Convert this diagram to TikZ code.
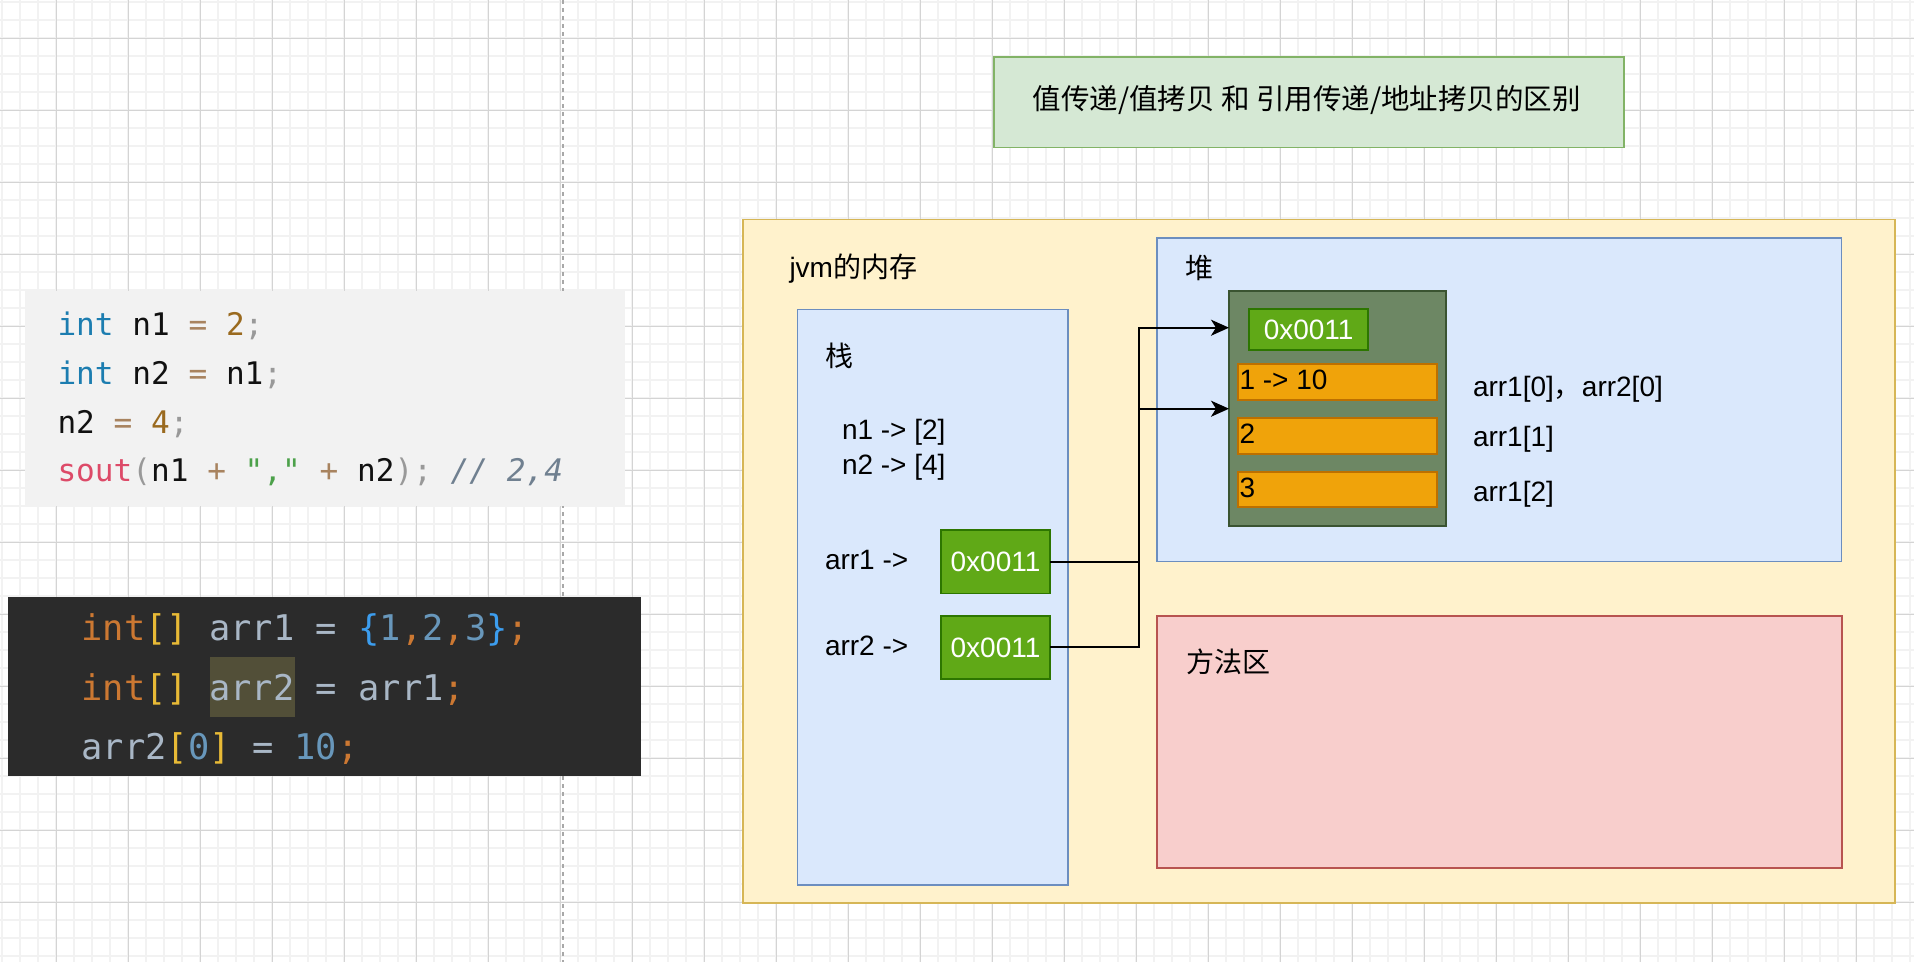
\documentclass[tikz,border=0pt]{standalone}
\usepackage{fontspec}
\setmainfont{Liberation Sans}
\newfontfamily\cjk{Noto Sans CJK SC}
\newfontfamily\codefont{DejaVu Sans Mono}
\usetikzlibrary{arrows.meta}
\definecolor{ylfill}{HTML}{FFF2CC}\definecolor{yldraw}{HTML}{D6B656}
\definecolor{blfill}{HTML}{DAE8FC}\definecolor{bldraw}{HTML}{6C8EBF}
\definecolor{rdfill}{HTML}{F8CECC}\definecolor{rddraw}{HTML}{B85450}
\definecolor{gnfill}{HTML}{D5E8D4}\definecolor{gndraw}{HTML}{82B366}
\definecolor{dgfill}{HTML}{6D8764}\definecolor{dgdraw}{HTML}{3A5431}
\definecolor{lgfill}{HTML}{60A917}\definecolor{lgdraw}{HTML}{2D7600}
\definecolor{orfill}{HTML}{F0A30A}\definecolor{ordraw}{HTML}{BD7000}
\definecolor{gridminor}{HTML}{F2F2F2}\definecolor{gridmajor}{HTML}{D4D4D4}
\definecolor{dashgrey}{HTML}{A8A8A8}
% code colours (light)
\definecolor{ckw}{HTML}{1C7DB0}\definecolor{cop}{HTML}{A8835F}
\definecolor{cnum}{HTML}{9A6A1F}\definecolor{cpn}{HTML}{999999}
\definecolor{cfn}{HTML}{DD4A68}\definecolor{cstr}{HTML}{4CA14A}
\definecolor{ccm}{HTML}{708090}\definecolor{ctx}{HTML}{111111}
\definecolor{cbg}{HTML}{F2F2F2}
% code colours (dark)
\definecolor{dbg}{HTML}{2B2B2B}\definecolor{dkw}{HTML}{CC7832}
\definecolor{dbr}{HTML}{E8BA36}\definecolor{dtx}{HTML}{A9B7C6}
\definecolor{dbl}{HTML}{3C9DEE}\definecolor{dnum}{HTML}{6897BB}
\definecolor{dpn}{HTML}{CC7832}\definecolor{dhl}{HTML}{524F38}
\newcommand\tk[2]{\textcolor{#1}{#2}}
\begin{document}
\begin{tikzpicture}[x=1pt,y=-1pt,
  box/.style={draw, line width=1.8pt, inner sep=0pt, outer sep=0pt, anchor=north west},
  ybox/.style={box, fill=ylfill, draw=yldraw},
  bbox/.style={box, fill=blfill, draw=bldraw},
  rbox/.style={box, fill=rdfill, draw=rddraw},
  tbox/.style={box, fill=gnfill, draw=gndraw},
  dgbox/.style={box, fill=dgfill, draw=dgdraw},
  lgbox/.style={box, fill=lgfill, draw=lgdraw, text=white, font=\fontsize{28}{34}\selectfont},
  orbox/.style={box, fill=orfill, draw=ordraw},
  txt/.style={inner sep=0pt, outer sep=0pt, text=black, font=\fontsize{28}{34}\selectfont},
  cjktxt/.style={inner sep=0pt, outer sep=0pt, text=black, font=\cjk\fontsize{28}{34}\selectfont},
  codeA/.style={inner sep=0pt, outer sep=0pt, anchor=base west, text=ctx, font=\codefont\fontsize{31.1}{37}\selectfont},
  codeB/.style={inner sep=0pt, outer sep=0pt, anchor=base west, text=dtx, font=\codefont\fontsize{35.4}{42}\selectfont},
  conn/.style={draw=black, line width=2pt, -{Stealth[length=18pt,width=16pt,inset=5pt]}},
  minorline/.style={draw=gridminor, line width=1.6pt},
  majorline/.style={draw=gridmajor, line width=1pt}
]
\useasboundingbox (0,0) rectangle (1914,962);
\fill[white] (0,0) rectangle (1914,962);
% background grid
\foreach \x in {2,20,...,1914} \draw[minorline] (\x,0) -- (\x,962);
\foreach \y in {2,20,...,962} \draw[minorline] (0,\y) -- (1914,\y);
\foreach \x in {56,128,...,1914} \draw[majorline] (\x,0) -- (\x,962);
\foreach \y in {38,110,...,962} \draw[majorline] (0,\y) -- (1914,\y);
% dashed separator
\draw[dashgrey, line width=1.5pt, dash pattern=on 4pt off 4pt] (563,0) -- (563,962);

% light code box
\node[inner sep=0pt, outer sep=0pt, anchor=north west, fill=cbg, minimum width=600pt, minimum height=215pt] (codeone) at (25,291) {};
\node[codeA] (ca1) at (57.5,335) {\tk{ckw}{int} n1 \tk{cop}{=} \tk{cnum}{2}\tk{cpn}{;}};
\node[codeA] (ca2) at (57.5,384) {\tk{ckw}{int} n2 \tk{cop}{=} n1\tk{cpn}{;}};
\node[codeA] (ca3) at (57.5,433) {n2 \tk{cop}{=} \tk{cnum}{4}\tk{cpn}{;}};
\node[codeA] (ca4) at (57.5,481) {\tk{cfn}{sout}\tk{cpn}{(}n1 \tk{cop}{+} \tk{cstr}{","} \tk{cop}{+} n2\tk{cpn}{);} \tk{ccm}{\itshape // 2,4}};

% dark code box
\node[inner sep=0pt, outer sep=0pt, anchor=north west, fill=dbg, minimum width=633pt, minimum height=179pt] (codetwo) at (8,597) {};
\node[inner sep=0pt, outer sep=0pt, anchor=north west, fill=dhl, minimum width=85pt, minimum height=60pt] (hl) at (210,657) {};
\node[codeB] (cb1) at (81.5,640) {\tk{dkw}{int}\tk{dbr}{[]} arr1 = \tk{dbl}{\{}\tk{dnum}{1}\tk{dpn}{,}\tk{dnum}{2}\tk{dpn}{,}\tk{dnum}{3}\tk{dbl}{\}}\tk{dpn}{;}};
\node[codeB] (cb2) at (81.5,700) {\tk{dkw}{int}\tk{dbr}{[]} arr2 = arr1\tk{dpn}{;}};
\node[codeB] (cb3) at (81.5,759) {arr2\tk{dbr}{[}\tk{dnum}{0}\tk{dbr}{]} = \tk{dnum}{10}\tk{dpn}{;}};

% title
\node[tbox, minimum width=630pt, minimum height=90.5pt] (title) at (994,57) {};
\node[cjktxt, font=\cjk\fontsize{28.5}{34}\selectfont] (titletext) at (1306.8,100.3) {值传递/值拷贝 和 引用传递/地址拷贝的区别};

% jvm memory
\node[ybox, minimum width=1152pt, minimum height=683.5pt] (jvm) at (743,219.5) {};
\node[txt, anchor=base west] (jvmtext) at (789.5,277.3) {jvm{\cjk 的内存}};

% stack
\node[bbox, minimum width=270.5pt, minimum height=575.5pt] (stack) at (797.5,309.5) {};
\node[cjktxt] (stacktext) at (839.7,355.7) {栈};
\node[txt, anchor=base west] (n1t) at (842,439) {n1 -> [2]};
\node[txt, anchor=base west] (n2t) at (842,474.3) {n2 -> [4]};
\node[txt, anchor=base west] (a1t) at (825,569.4) {arr1 ->};
\node[txt, anchor=base west] (a2t) at (825,655) {arr2 ->};
\node[lgbox, minimum width=109pt, minimum height=63.5pt] (s1) at (941,530) {0x0011};
\node[lgbox, minimum width=109pt, minimum height=63.3pt] (s2) at (941,615.7) {0x0011};

% heap
\node[bbox, minimum width=684.5pt, minimum height=323.5pt] (heap) at (1157,238) {};
\node[cjktxt] (heaptext) at (1199.5,267.5) {堆};
\node[dgbox, minimum width=216.7pt, minimum height=234.4pt] (arr) at (1229,291.3) {};
\node[lgbox, minimum width=119.3pt, minimum height=40.7pt] (hg) at (1249,309.3) {0x0011};
\node[orbox, minimum width=198.4pt, minimum height=36pt] (b1) at (1238.3,364) {};
\node[orbox, minimum width=198.4pt, minimum height=36pt] (b2) at (1238.3,418) {};
\node[orbox, minimum width=198.4pt, minimum height=35.3pt] (b3) at (1238.3,472) {};
\node[txt, anchor=base west] (b1t) at (1239.5,389.3) {1 -> 10};
\node[txt, anchor=base west] (b2t) at (1239.5,443.3) {2};
\node[txt, anchor=base west] (b3t) at (1239.5,497.3) {3};
\node[txt, anchor=base west] (l1) at (1473,396.7) {arr1[0]{\cjk ，}arr2[0]};
\node[txt, anchor=base west] (l2) at (1473,446.7) {arr1[1]};
\node[txt, anchor=base west] (l3) at (1473,501.7) {arr1[2]};

% method area
\node[rbox, minimum width=684.7pt, minimum height=252.3pt] (method) at (1157,615.7) {};
\node[cjktxt] (methodtext) at (1228.7,662.2) {方法区};

% connectors
\coordinate (jx) at (1139,0);
\coordinate (t1) at (1229,327.7);
\coordinate (t2) at (1229,408.7);
\draw[conn] (s1.east) -- (s1.east -| jx) -- (jx |- t1) -- (t1);
\draw[conn] (s2.east) -- (s2.east -| jx) -- (jx |- t2) -- (t2);
\end{tikzpicture}
\end{document}
